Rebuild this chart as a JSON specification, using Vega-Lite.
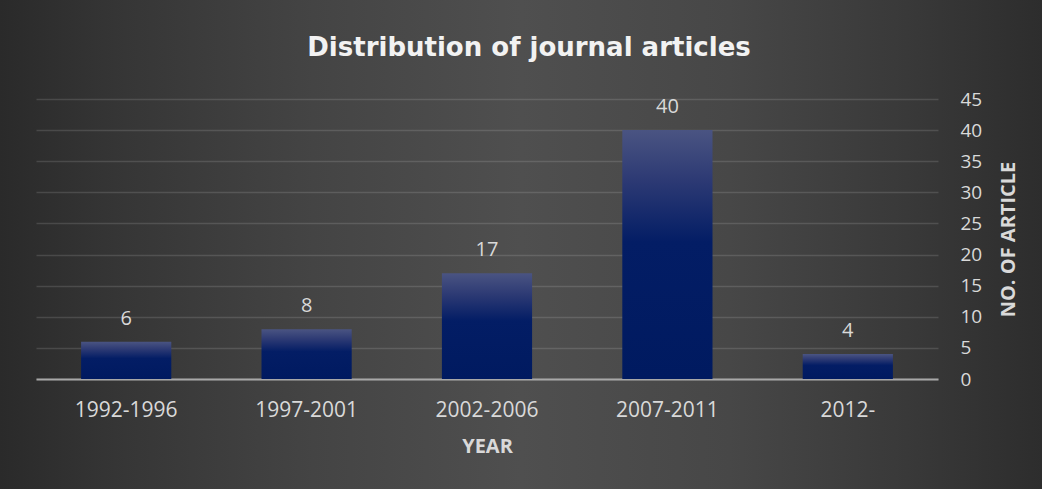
{
  "$schema": "https://vega.github.io/schema/vega-lite/v6.json",
  "autosize": {"type": "none"},
  "width": 902,
  "height": 280,
  "padding": {"left": 36, "top": 99, "right": 104, "bottom": 110},
  "background": "#3a3a3a",
  "title": {
    "text": "Distribution of journal articles",
    "font": "DejaVu Sans",
    "fontSize": 26,
    "fontWeight": "bold",
    "color": "#f2f2f2",
    "anchor": "middle",
    "baseline": "alphabetic",
    "offset": 8,
    "dx": 42
  },
  "data": {
    "values": [
      {"period": "1992-1996", "articles": 6},
      {"period": "1997-2001", "articles": 8},
      {"period": "2002-2006", "articles": 17},
      {"period": "2007-2011", "articles": 40},
      {"period": "2012-", "articles": 4}
    ]
  },
  "encoding": {
    "x": {
      "field": "period",
      "type": "nominal",
      "sort": null,
      "scale": {"paddingInner": 0.5, "paddingOuter": 0.25},
      "axis": {
        "title": "YEAR",
        "labelAngle": 0,
        "ticks": false,
        "labelPadding": 20,
        "labelFontSize": 21,
        "titleFontSize": 20,
        "titleFontWeight": "bold",
        "titlePadding": 16,
        "domain": true,
        "domainColor": "#a8a8a8",
        "domainWidth": 2,
        "grid": false
      }
    },
    "y": {
      "field": "articles",
      "type": "quantitative",
      "scale": {"domain": [0, 45], "nice": false},
      "axis": {
        "orient": "right",
        "title": "NO. OF ARTICLE",
        "values": [0, 5, 10, 15, 20, 25, 30, 35, 40, 45],
        "ticks": false,
        "domain": false,
        "labelPadding": 22,
        "labelFontSize": 19,
        "labelAlign": "left",
        "titleFontSize": 20,
        "titleFontWeight": "bold",
        "titleAngle": 270,
        "titleX": 70,
        "titleY": 140,
        "titleAlign": "center",
        "titleBaseline": "middle",
        "grid": true,
        "gridColor": "#ffffff",
        "gridOpacity": 0.13,
        "gridWidth": 1.5
      }
    }
  },
  "layer": [
    {
      "mark": {
        "type": "bar",
        "color": {
          "gradient": "linear",
          "x1": 0, "y1": 0, "x2": 0, "y2": 1,
          "stops": [
            {"offset": 0, "color": "#4a5482"},
            {"offset": 0.2, "color": "#2d3a74"},
            {"offset": 0.45, "color": "#031d65"},
            {"offset": 1, "color": "#001a60"}
          ]
        }
      }
    },
    {
      "mark": {
        "type": "text",
        "baseline": "alphabetic",
        "dy": -17,
        "font": "Open Sans",
        "fontSize": 20,
        "color": "#d9d9d9"
      },
      "encoding": {"text": {"field": "articles", "type": "quantitative"}}
    }
  ],
  "config": {
    "font": "Open Sans",
    "view": {
      "fill": {
        "gradient": "linear",
        "x1": -0.0399, "y1": 0, "x2": 1.1153, "y2": 0,
        "stops": [
          {"offset": 0, "color": "#2a2a2a"},
          {"offset": 0.12, "color": "#363636"},
          {"offset": 0.3, "color": "#444444"},
          {"offset": 0.5, "color": "#4f4f4f"},
          {"offset": 0.7, "color": "#474747"},
          {"offset": 0.87, "color": "#393939"},
          {"offset": 1, "color": "#2d2d2d"}
        ]
      },
      "stroke": {
        "gradient": "linear",
        "x1": -0.0399, "y1": 0, "x2": 1.1153, "y2": 0,
        "stops": [
          {"offset": 0, "color": "#2a2a2a"},
          {"offset": 0.12, "color": "#363636"},
          {"offset": 0.3, "color": "#444444"},
          {"offset": 0.5, "color": "#4f4f4f"},
          {"offset": 0.7, "color": "#474747"},
          {"offset": 0.87, "color": "#393939"},
          {"offset": 1, "color": "#2d2d2d"}
        ]
      },
      "strokeWidth": 600
    },
    "axis": {
      "labelColor": "#d9d9d9",
      "titleColor": "#d9d9d9",
      "labelFont": "Open Sans",
      "titleFont": "Open Sans"
    }
  }
}
